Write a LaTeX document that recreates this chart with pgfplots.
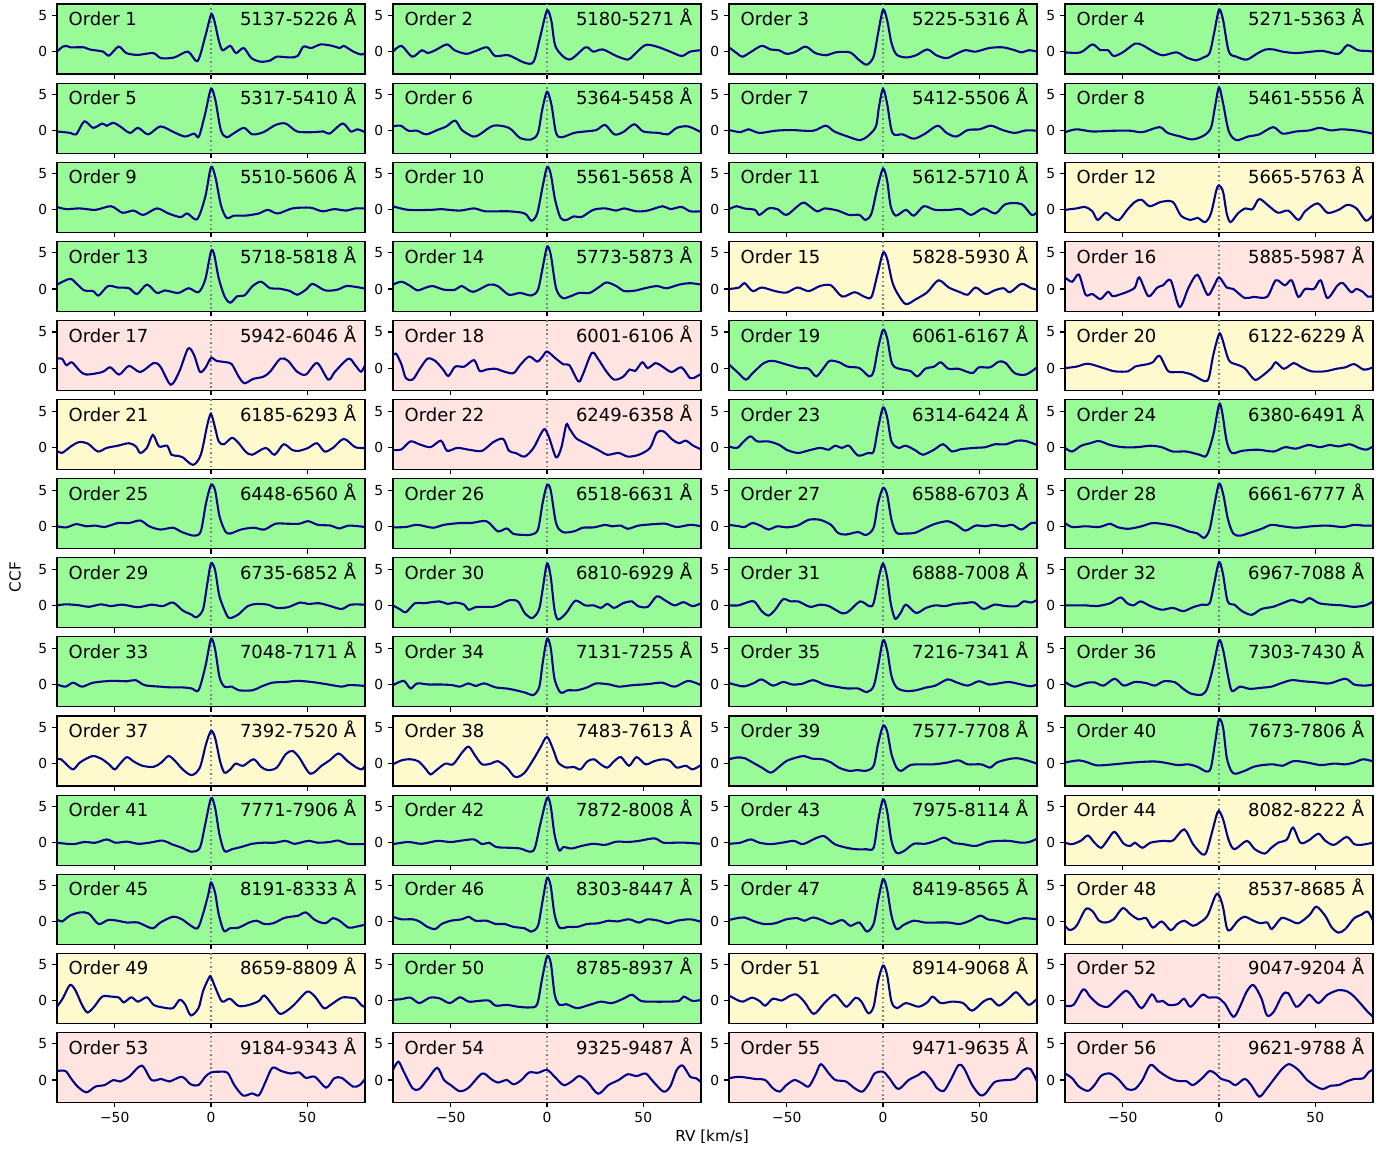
\documentclass[border=0pt]{standalone}
\usepackage{pgfplots}
\pgfplotsset{compat=1.18}
\usepackage{fontspec}
\setmainfont{DejaVu Sans}
\definecolor{cg}{HTML}{98FB98}
\definecolor{cy}{HTML}{FFFACD}
\definecolor{cp}{HTML}{FFE4E1}
\definecolor{ln}{HTML}{00008B}
\pgfplotsset{
  panel/.style={
    scale only axis, width=222.6pt, height=50.6pt,
    xmin=-80, xmax=80, ymin=-3.1, ymax=6.6,
    xtick={-50,0,50}, xticklabels={}, ytick={0,5}, yticklabels={0,5},
    tick align=outside, xtick pos=bottom, ytick pos=left,
    major tick length=3.5pt,
    axis line style={line width=0.8pt},
    every tick/.style={black, line width=0.8pt},
    tick label style={font=\fontsize{10}{12}\selectfont},
    anchor=north west,
  }
}
\newcommand{\panel}[7][]{%
  \begin{axis}[panel, at={(41.19pt+#2*242.83pt, -2.89pt-#3*57.17pt)}, axis background/.style={fill=#4}, #1]
    \addplot[gray, line width=1.2pt, dash pattern=on 1.2pt off 2pt] coordinates {(0,-4) (0,8)};
    \addplot[ln, line width=1.5pt, smooth] coordinates {#7};
    \node[anchor=base west, inner sep=0pt, font=\fontsize{13}{15}\selectfont] at (rel axis cs:0.037,0.69) {Order #5};
    \node[anchor=base east, inner sep=0pt, font=\fontsize{13}{15}\selectfont] at (rel axis cs:0.972,0.69) {#6 Å};
  \end{axis}}
\begin{document}
\begin{tikzpicture}
\useasboundingbox (0pt,0pt) rectangle (1004.55pt,-833.27pt);
% row 0
\panel{0}{0}{cg}{1}{5137-5226}{(-80,0) (-77,0.7) (-75,0.8) (-73,0.6) (-66,0.6) (-63,0.3) (-56,0) (-53,-0.55) (-48,0.7) (-44,-0.2) (-38,-0.45) (-30,-0.2) (-26,-0.9) (-19,-0.8) (-12,0) (-7,-1.3) (-3,2.1) (0,5.1) (1.6,4.4) (4,1.6) (6,0.2) (10,0.8) (13,-0.2) (17,0.5) (21,-0.9) (26,-1.4) (31,-1.2) (34,-0.7) (41,-0.8) (45,-0.6) (48,0.7) (52,0.5) (57,1.0) (63,0.8) (67,0.5) (69,0.8) (74,0) (78,-0.4) (80,-0.2)}
\panel{1}{0}{cg}{2}{5180-5271}{(-80,0) (-75.6,0.8) (-70,-0.7) (-65,0.2) (-62,-0.2) (-58,0.2) (-52,1.0) (-48,0.2) (-42,-0.3) (-37,0.1) (-31,0.6) (-27,-0.6) (-20,-0.5) (-12,-1.5) (-7,-1.4) (-3.5,2.1) (0,5.7) (2.3,4.2) (4.6,0.6) (11.6,-1.1) (20,0.6) (24,0) (29,0.3) (36,-0.6) (42,-1.1) (45,-0.5) (51,0.9) (57,0.7) (64,0) (70,-0.6) (74.4,0) (80,0.2)}
\panel{2}{0}{cg}{3}{5225-5316}{(-80,0.6) (-76,-0.2) (-73,-0.7) (-68.4,0) (-63,0.8) (-58.4,0.3) (-54.2,0.2) (-50,-0.3) (-45.3,0) (-40.2,0.7) (-35.1,-0.2) (-29.3,-0.5) (-24.7,-0.1) (-17.2,-0.1) (-12.3,-1.2) (-8.4,-1.8) (-4.9,-0.7) (-2.6,2.5) (0,5.8) (2.1,4.4) (4.4,1.2) (7,-0.4) (11.9,-0.8) (17.2,-0.5) (23,0.3) (27.7,-0.5) (33,-0.9) (38.1,-0.3) (42.8,0.2) (48.1,0) (55.1,0.5) (62.1,0.6) (68.4,0.2) (71.9,-0.1) (75.8,0.2) (80,0)}
\panel{3}{0}{cg}{4}{5271-5363}{(-80,-0.1) (-71.9,-0.1) (-65.8,1.0) (-61.6,0.2) (-57.7,0.2) (-54.7,-0.6) (-50,-0.1) (-43.7,1.1) (-39.8,0.9) (-34,0) (-29.1,-0.5) (-22.1,-0.1) (-17,-0.8) (-11.9,-1.2) (-8.1,-0.8) (-4.9,-0.2) (-2.6,2.5) (0,5.8) (2.1,4.4) (5.1,0) (9.1,-0.7) (14.4,-1.1) (20.2,-0.2) (24.2,0.3) (28.4,0.3) (33,0) (40,-0.2) (48.1,0) (53.9,0.1) (62.1,-0.3) (66.7,0.9) (72.1,0.2) (77.2,0.1) (80,0)}
% row 1
\panel{0}{1}{cg}{5}{5317-5410}{(-80,-0.1) (-73,-0.3) (-70,-0.5) (-65.8,1.3) (-61.2,0.4) (-56.5,1.0) (-54.2,0.7) (-50.7,1.1) (-47.2,0.6) (-42.1,-0.3) (-37.9,0.4) (-32.6,-0.5) (-26.3,0.6) (-19.3,-0.2) (-13.5,-0.8) (-8.8,-0.4) (-6.3,-0.8) (-3,2.4) (0,5.8) (2.3,4.2) (5.1,0.1) (8.1,-0.9) (12.1,-0.3) (17.2,0.4) (21.4,-0.5) (27.2,-0.2) (33.5,0.8) (38.8,1.0) (44.7,-0.1) (52.8,-0.2) (58.6,-0.1) (61.6,-0.4) (68.4,1.0) (72.6,-0.1) (76,0.2) (80,-0.2)}
\panel{1}{1}{cg}{6}{5364-5458}{(-80,0.6) (-76,0.7) (-72,0) (-67.4,0) (-62.8,-0.5) (-57,0.1) (-52.3,0.6) (-47.7,1.4) (-44.2,0.1) (-38.4,-0.8) (-34.9,-0.5) (-27.9,0.7) (-19.8,0.4) (-14,-1.0) (-8.1,-1.2) (-4.7,-0.3) (-2.5,2.9) (0,5.4) (2.3,3.6) (4.7,-0.3) (7.7,-0.9) (14,-0.3) (19.8,-0.1) (25.6,0.1) (30.2,0.8) (34.9,-0.5) (39.5,-0.2) (45.3,0.9) (50,-0.1) (58.1,-0.3) (62.8,-0.5) (67.4,0.4) (73.3,0.6) (80,-0.2)}
\panel{2}{1}{cg}{7}{5412-5506}{(-80,0.1) (-74,-0.2) (-70,0.2) (-64.2,-0.3) (-56,0) (-47.9,0.1) (-36.3,0) (-29.8,0.7) (-25.3,-0.1) (-18.4,-0.8) (-11.9,-1.3) (-7.7,-0.7) (-3.7,0.6) (-2.1,3.3) (0,5.8) (2.1,3.8) (4.9,-0.3) (10.2,-0.5) (16,-1.1) (21.9,-0.4) (28.4,0.7) (33,-0.3) (38.1,-0.8) (44,0.1) (50.2,0.2) (56,0.7) (62.1,0.1) (68.4,-0.3) (74.2,0.05) (80,0)}
\panel{3}{1}{cg}{8}{5461-5556}{(-80,-0.2) (-74,0.2) (-65.8,-0.1) (-54.7,0) (-46,0) (-39.8,-0.2) (-30.9,0.5) (-26.7,-0.3) (-20,-0.8) (-14,-1.2) (-8.1,-0.7) (-4.2,0.4) (-2.1,3.3) (0,6.0) (2.1,3.8) (5.1,-0.1) (9.1,-1.3) (15.1,-0.8) (20.9,-0.5) (28.1,0.5) (33,-0.4) (40,-0.1) (47,0.05) (52.3,0.4) (58,0.05) (64,0.2) (72,0) (80,-0.4)}
% row 2
\panel{0}{2}{cg}{9}{5510-5606}{(-80,0.4) (-75.1,0.1) (-68.1,0.2) (-60,0) (-51.9,0.5) (-46,-0.4) (-40.2,-0.1) (-35.1,-0.7) (-28.1,0.2) (-22.1,-0.5) (-15.8,-1.0) (-12.3,-0.5) (-7.2,-1.3) (-3,1.8) (0,5.9) (2.3,4.5) (5.1,0.7) (8.1,-1.1) (12.1,-0.8) (17.9,-0.8) (24.9,-0.5) (29.5,0) (34.7,-0.5) (42.3,0.2) (51.6,0.3) (57.9,-0.2) (64,0.1) (70.2,-0.1) (74.9,0.2) (80,0.2)}
\panel{1}{2}{cg}{10}{5561-5658}{(-80,0.5) (-72.1,0) (-60,0) (-55.3,0.1) (-45.3,-0.1) (-37.9,0.2) (-31.9,-0.2) (-19.8,-0.2) (-11.6,-0.5) (-8.1,-1.5) (-5.1,-0.5) (-2.3,3.2) (0,5.9) (1.9,5.0) (4.2,1.4) (7,-1.1) (10,-1.4) (14,-0.9) (17.9,-1.0) (24,0) (30.2,0.2) (36,-0.1) (40,0.2) (46.5,-0.2) (52.3,-0.1) (60,0.5) (64,0.1) (69.8,0.4) (74.4,-0.2) (80,-0.2)}
\panel{2}{2}{cg}{11}{5612-5710}{(-80,0.1) (-76,0.5) (-72.3,0.2) (-66.5,0) (-64.2,-0.7) (-59.5,0.2) (-54.9,0.1) (-50.2,-0.7) (-44.4,0.5) (-40.9,1.0) (-34.4,-0.2) (-30.5,0.2) (-23.5,-0.1) (-17.7,-0.7) (-12.3,-0.7) (-9.1,-1.4) (-6,-0.5) (-3,3.0) (0,5.7) (2.1,4.1) (4,0.5) (6.7,-0.8) (11.9,0) (16,-0.8) (21.2,0.5) (27,0) (34.7,0) (40.5,0.1) (45.8,-0.7) (52.1,0.2) (58.4,-0.5) (63.7,0.8) (71.9,0.8) (77.2,-0.7) (80,-0.3)}
\panel{3}{2}{cy}{12}{5665-5763}{(-80,0) (-74,0.2) (-69.5,0.4) (-65.8,-0.2) (-63,-1.4) (-58.8,-0.4) (-55.3,-1.1) (-51.9,-1.4) (-47.7,0) (-43.7,1.1) (-40.2,1.4) (-36,0.5) (-30.2,1.1) (-24,1.1) (-19.8,-0.8) (-14.7,-1.4) (-11.2,-1.1) (-7.2,-1.7) (-4.2,-0.5) (-1.4,2.7) (0,3.4) (2.1,2.5) (4,-0.5) (6,-1.7) (9.8,-0.5) (13.7,0.2) (17.4,0.1) (20.9,1.5) (26,0.5) (30.7,-0.4) (36,-0.1) (41.2,-1.4) (44.7,-0.2) (51.2,0.9) (56.3,-0.4) (62.1,0) (66.7,0.7) (71.4,0.2) (76.3,-1.5) (80,-0.7)}
% row 3
\panel{0}{3}{cg}{13}{5718-5818}{(-80,0.6) (-76.3,1.1) (-72.8,1.4) (-69.3,0.6) (-65.8,-0.2) (-61.2,-0.3) (-58.4,-0.9) (-53.5,0.4) (-48.4,0.2) (-42.6,0.1) (-38.4,-0.7) (-33.3,0.6) (-28.1,-0.55) (-24,-0.2) (-17,-0.55) (-11.6,0.1) (-6.5,-0.45) (-3,1.3) (0,5.2) (1.6,4.8) (4,1.5) (7,-1.0) (10,-1.9) (13.7,-1.0) (17.4,-0.9) (21.6,0.4) (26,1.0) (30.7,0.1) (35.3,0.05) (41.2,-0.3) (44.7,-0.8) (49.3,-0.1) (52.8,0.7) (59.3,-0.2) (65.6,-0.1) (70.2,0.4) (74.9,0.3) (80,0.05)}
\panel{1}{3}{cg}{14}{5773-5873}{(-80,0.6) (-75.6,1.0) (-70.9,0.4) (-67.4,-0.2) (-62.8,0.2) (-59.3,0.4) (-53.5,-0.1) (-47.7,-0.1) (-44.2,0.4) (-38.4,-0.4) (-30.2,0.6) (-25.6,0.4) (-19.8,-0.8) (-14,-0.55) (-8.1,-0.9) (-4.7,-0.1) (-2.3,2.9) (0,5.8) (1.9,4.8) (4.7,0.1) (8.1,-1.25) (12.3,-1.0) (16.7,-0.55) (22.1,-0.55) (26.7,0.2) (30.9,0.9) (36,0.4) (40.2,-0.3) (46.5,-0.2) (50,0.05) (57,0.4) (62.1,0.1) (68.6,0.6) (74.4,0.8) (80,0.6)}
\panel{2}{3}{cy}{15}{5828-5930}{(-80,0) (-74.7,0.2) (-71.9,0.8) (-67.7,-0.3) (-63,0.2) (-56,-0.3) (-50.2,-0.5) (-44.4,0.2) (-38.6,-0.3) (-32.8,0.4) (-27,0.5) (-21.2,-1.05) (-14.7,-0.45) (-9.5,-1.1) (-6,-1.1) (-3,1.9) (0,5.0) (2.1,4.2) (4.9,0.9) (7.9,-0.8) (11.9,-2.1) (17.2,-1.4) (23,-0.45) (28.8,1.2) (34.2,0.2) (40.5,-0.5) (44,-0.8) (48.1,0.2) (53.3,-0.7) (57.9,-0.2) (62.6,0.1) (66,-0.45) (71.9,0.7) (77,0.1) (80,-0.1)}
\panel{3}{3}{cp}{16}{5885-5987}{(-80,1.6) (-76.3,1.0) (-72.8,2.0) (-69.3,-0.8) (-65.8,-0.7) (-61.6,-1.4) (-57.7,-0.4) (-55.3,-1.0) (-51.9,-0.8) (-47.7,-0.4) (-43.7,0.2) (-41.4,1.6) (-36.7,-1.0) (-32.1,0.2) (-29.1,0.5) (-25.1,1.2) (-20.5,-2.5) (-15.8,0.2) (-11.2,1.95) (-6,-0.8) (-3,0.2) (0,1.6) (4,0.2) (7.4,0) (13.3,-1.25) (17.9,-1.1) (24.9,-1.1) (29.5,1.2) (34.2,0.5) (37.7,1.2) (41.2,-1.1) (44.7,0) (49.3,0) (52.8,1.2) (56.3,-1.25) (61.6,0.5) (64.4,0.8) (68.6,-0.45) (71.4,0) (74.9,-0.45) (77.2,-1.05) (80,-1.0)}
% row 4
\panel{0}{4}{cp}{17}{5942-6046}{(-80,1.3) (-77.4,1.3) (-75.1,0.4) (-72.3,0.8) (-68.1,-0.4) (-64.7,-0.9) (-56.5,-0.55) (-52.3,0.1) (-47.7,-0.9) (-42.6,0.3) (-36.7,-0.55) (-29.8,0.7) (-26.3,0.2) (-20.9,-2.3) (-16.5,-0.5) (-11.9,2.7) (-8.8,1.8) (-5.8,-0.5) (-3,0) (0,1.4) (2.8,1.0) (8.1,0.8) (10.9,0.5) (14.4,-1.2) (17.4,-2.1) (21.9,-1.5) (27.2,-1.2) (30.7,-0.5) (36,1.3) (40,1.0) (44.7,-0.5) (49.3,-0.9) (55.1,0.7) (60.9,-1.6) (64.4,-0.5) (71.4,1.3) (74.9,0.4) (77.9,-0.5) (80,0.4)}
\panel{1}{4}{cp}{18}{6001-6106}{(-80,1.8) (-78.4,2.0) (-75.6,0.5) (-73.3,-1.4) (-69.8,-1.6) (-66.3,-0.2) (-62.1,1.3) (-58.1,1.0) (-54,-0.2) (-51.2,-1.1) (-47.7,0.2) (-43,0.2) (-37.9,1.1) (-35,-0.4) (-31.4,-0.2) (-26.7,-0.1) (-22.1,-0.5) (-17.4,-0.7) (-14,0.4) (-9.3,1.6) (-5.1,0.9) (-2.3,1.6) (0,2.3) (4.2,1.4) (8.6,0.5) (11.6,0.4) (16.3,-1.85) (18.6,-0.9) (23.3,2.1) (26.7,1.2) (30.9,-0.5) (34.9,-1.6) (39.5,-1.2) (43,-0.2) (45.8,-0.4) (49.5,0.8) (52.3,0) (56.5,0.7) (60,0.2) (64.7,-0.55) (69.8,0.1) (74.4,-1.4) (77.5,-1.2) (80,-0.8)}
\panel{2}{4}{cg}{19}{6061-6167}{(-80,0.5) (-75.1,-0.7) (-71.2,-1.6) (-67.7,-0.7) (-61.9,0.7) (-57.2,1.0) (-50.2,0.5) (-43.3,0) (-38.6,-0.1) (-34.7,-1.15) (-30.9,0) (-27.7,1.0) (-22.8,0.8) (-18.4,0.2) (-12.3,0) (-7.2,-1.15) (-4.9,-0.45) (-2.6,2.7) (0,5.3) (2.1,4.2) (4.9,0.5) (10.2,-0.2) (14.2,-0.4) (17.9,-1.15) (21.9,-0.1) (26.5,0.2) (30,0.8) (34,-0.1) (39.3,-0.1) (46.3,-0.7) (49.8,0.1) (55.6,0.1) (60.2,0.9) (63.7,0.7) (68.4,-0.7) (74.2,-0.9) (80,0.1)}
\panel{3}{4}{cy}{20}{6122-6229}{(-80,0) (-74,0.2) (-68.1,0.6) (-60,0) (-54.2,-0.45) (-47.2,-0.45) (-43.7,0.2) (-37.9,0.5) (-34.4,0.8) (-30.9,1.7) (-26.5,-0.4) (-22.1,-0.55) (-19.3,-0.55) (-14.2,-0.9) (-7.7,-1.8) (-5.3,-1.35) (-3,1.8) (0,4.7) (1.6,4.1) (5.1,1.1) (9.1,0.5) (13.3,0) (18.4,-1.6) (22.1,-1.15) (27.2,0) (29.5,0.8) (33.7,-0.1) (38.8,0.7) (42.3,0.2) (48.1,-0.45) (55,-0.45) (60.9,-0.1) (65.6,0.1) (70.2,0.55) (74.9,-0.2) (77.9,-0.1) (80,0.1)}
% row 5
\panel{0}{5}{cy}{21}{6185-6293}{(-80,-0.5) (-77.4,-0.8) (-72.8,0.1) (-68.6,0.7) (-64,0.5) (-58.8,-0.6) (-54.2,-0.1) (-48.4,0.2) (-42.6,0.55) (-39,0.1) (-36.7,-0.8) (-33.3,-0.1) (-30.2,1.7) (-27,0.1) (-22.8,0.2) (-20.5,-1.05) (-17,-1.2) (-14.7,-1.4) (-9.3,-2.45) (-5.3,-1.05) (-1.9,3.1) (0,4.6) (2.1,2.7) (4,0.8) (6.7,0.4) (10.9,1.3) (14.4,0.55) (17.9,-0.6) (21.4,-1.05) (28.4,-0.1) (33,-1.05) (37.7,0.4) (42.3,-0.4) (45.8,-0.5) (50.5,-0.1) (55,0.55) (59,-0.6) (63.3,-0.1) (69,1.15) (74.9,0) (80,-0.1)}
\panel{1}{5}{cp}{22}{6249-6358}{(-80,-0.4) (-75.6,-0.3) (-70.9,0.8) (-66.3,0.4) (-60.5,0) (-55.1,0.9) (-51.9,-0.5) (-46.5,-0.1) (-39.5,-0.4) (-33.7,-0.5) (-27.9,0.7) (-22.8,1.15) (-19.8,-0.5) (-16.3,-0.8) (-11.6,-1.3) (-7,-0.1) (-3.5,1.7) (-1.2,2.5) (1.2,1.25) (4.7,-1.4) (7.4,-0.1) (10,3.1) (11.6,2.6) (15.1,1.25) (19.8,0.55) (26.7,-0.4) (31.4,-1.05) (37.2,-0.8) (41.9,-1.3) (47.7,-1.05) (53.5,-0.1) (57,2.0) (60.5,2.2) (65.1,1.05) (68.6,0.55) (72.1,0.9) (76,0.2) (80,-0.3)}
\panel{2}{5}{cg}{23}{6314-6424}{(-80,0.1) (-75.8,-0.1) (-72.3,0.8) (-68.8,1.5) (-65.3,0.8) (-59.5,0.8) (-53.7,0.3) (-50.2,-0.35) (-44.4,-0.8) (-39.3,-0.5) (-32.8,-0.1) (-28.1,-0.35) (-25.1,0.2) (-21.2,-0.1) (-17.7,0.2) (-13,-1.15) (-7.7,-0.8) (-4.9,-0.6) (-2.6,2.6) (0,5.5) (2.1,4.2) (4.4,0.8) (7.9,-0.1) (11.9,0.2) (17.2,-0.5) (20.7,-1.05) (26.5,-0.35) (31.2,0.4) (35.8,-0.6) (40,-0.3) (47.4,-0.1) (53.3,0) (57.9,0.4) (63.7,0.4) (69.5,0.9) (74.2,0.85) (80,0.3)}
\panel{3}{5}{cg}{24}{6380-6491}{(-80,-0.1) (-76.3,-0.6) (-71.6,0.2) (-66.9,0.55) (-62.3,0.85) (-56.5,0.3) (-50,0) (-42.6,0) (-35.6,0.2) (-29.8,0) (-24,-0.6) (-17,-0.6) (-10,-1.05) (-6.5,-1.15) (-3,1.7) (0,5.9) (1.6,4.9) (4,0.8) (6.7,-0.8) (12.1,-0.5) (20.2,-0.35) (28.4,-0.6) (34.2,0) (40,-0.2) (46.5,0.3) (52.3,0) (57.4,0.3) (62.1,0.1) (67.9,0.4) (72.6,-0.1) (76.5,-0.35) (80,0.1)}
% row 6
\panel{0}{6}{cg}{25}{6448-6560}{(-80,0) (-75.1,-0.15) (-70,0.3) (-64.7,0) (-60,0.1) (-55.3,-0.1) (-48.4,0.45) (-42.6,0.45) (-36.7,0.8) (-32.1,0) (-26.3,-0.45) (-19.8,-0.2) (-15.1,-0.8) (-8.8,-1.3) (-5.3,-0.7) (-2.6,3.2) (0,5.7) (2.1,5.0) (4.4,1.4) (7.4,-0.7) (10,-1.0) (15.6,-0.45) (22.1,-0.2) (27.7,-0.45) (33.5,0.35) (40,0.35) (45.8,0.35) (50.5,0.7) (55.6,0.2) (62.1,0.1) (66.7,-0.3) (71.4,0.1) (80,-0.1)}
\panel{1}{6}{cg}{26}{6518-6631}{(-80,-0.15) (-73.3,-0.1) (-67.4,0.2) (-59.3,-0.2) (-53.5,0.2) (-45.3,0.45) (-39.5,0.45) (-31.4,0.7) (-25.6,-0.7) (-20.9,-0.3) (-17.4,-1.05) (-11.6,-1.2) (-8.1,-1.15) (-4.7,-0.45) (-2.3,3.2) (0,5.7) (1.9,5.0) (4.7,0.45) (8.1,-0.8) (14,-0.7) (18.6,-0.2) (24.4,-0.15) (30.2,0.2) (33.7,0) (38.4,0.1) (41.9,-0.35) (47.7,0.1) (55.8,0.3) (61.6,0.35) (67.4,-0.1) (74.4,0.2) (80,0)}
\panel{2}{6}{cg}{27}{6588-6703}{(-80,0.2) (-74.7,0) (-71.9,-0.1) (-67.7,0.45) (-63,0) (-59.5,-0.45) (-54.9,0) (-50.2,-0.15) (-44.4,0.1) (-38.6,0.9) (-32.8,0.9) (-27,0.2) (-23.5,-0.9) (-19.5,-1.15) (-13,-0.8) (-8.8,-1.2) (-4.9,-0.2) (-2.6,3.2) (0,5.3) (2.1,4.4) (4.4,0.9) (7,-0.9) (11.9,-1.0) (16.7,-0.9) (22.3,-0.2) (27.2,0.35) (33.5,0.7) (38.1,0.2) (42.8,-0.6) (48.1,0.1) (53.3,0) (57.9,0.2) (62.6,0) (67.2,0.2) (71.9,-0.45) (77,0.45) (80,0.45)}
\panel{3}{6}{cg}{28}{6661-6777}{(-80,0.45) (-76.3,-0.1) (-69.3,0) (-62.3,-0.1) (-56.5,0.35) (-53,-0.1) (-47.2,-0.35) (-40.2,0) (-34.4,0.45) (-26.3,0.2) (-20.5,-0.2) (-15.8,-0.7) (-11.2,-1.0) (-7.7,-1.6) (-4.9,-0.45) (-2.6,2.7) (0,5.9) (2.1,4.5) (4.7,0.9) (7.4,-1.0) (10.9,-1.3) (16,-0.9) (22.1,-0.35) (27.2,0.2) (33,0) (40,-0.2) (48.1,0) (56.3,0.1) (64.4,-0.1) (70.2,0.2) (74.9,0.1) (80,0.1)}
% row 7
\panel{0}{7}{cg}{29}{6735-6852}{(-80,0) (-75.1,0.15) (-68.1,0) (-63.5,-0.2) (-57,0.15) (-52.3,-0.1) (-46,0.1) (-37.9,-0.25) (-30.9,0.1) (-25.1,-0.1) (-19.8,0.4) (-14.7,-0.7) (-10,-1.3) (-7.7,-1.65) (-4.2,-0.6) (-1.9,3.05) (0,5.8) (2.1,4.9) (4.4,1.25) (8.1,-1.3) (10,-1.75) (14,-1.3) (19.1,-0.1) (23.7,0.2) (29.5,0.1) (34.2,-0.35) (40,-0.25) (46.3,0.4) (50.5,0.2) (56.3,0.3) (62.1,-0.1) (67.9,-0.5) (72.6,0.1) (80,0.1)}
\panel{1}{7}{cg}{30}{6810-6929}{(-80,0) (-76,-0.6) (-73.3,-0.95) (-68.6,0.3) (-64,0.3) (-55.8,0.55) (-51.6,0.2) (-47.7,0.4) (-43,0.1) (-40.7,-0.6) (-37.2,-0.25) (-32.6,-0.2) (-27.9,-0.2) (-24.4,0.1) (-19.8,0.7) (-15.1,0.55) (-11.6,-1.05) (-7.7,-1.75) (-4.2,-0.6) (-2.3,2.15) (0,5.8) (1.9,4.0) (3.9,-0.6) (5.8,-1.95) (10,-1.05) (14.7,0.65) (19.8,0) (24.4,0) (27.9,-0.35) (31.4,0.2) (34.9,-0.35) (39.5,0.3) (44.2,0.55) (47.2,-0.1) (52.3,-0.2) (57,1.25) (61.6,0.65) (66.3,0) (70.9,0.45) (75.6,-0.1) (80,0.3)}
\panel{2}{7}{cg}{31}{6888-7008}{(-80,0) (-75.1,0) (-71.9,0.3) (-67,0.55) (-63,-0.8) (-59.5,-1.4) (-56,-0.6) (-51.9,0.85) (-47.9,0.55) (-44,0.55) (-37.9,-0.2) (-32.8,0.1) (-28.1,-0.1) (-21.2,-1.1) (-17.7,-0.8) (-11.9,0.55) (-7.2,-0.1) (-4.9,0.3) (-2.1,3.95) (0,5.8) (2.1,3.95) (4,0.3) (6.3,-1.85) (9.1,-1.05) (11.9,0.1) (17.2,-1.05) (22.3,-0.35) (27.2,0) (32.3,-0.1) (37,0.2) (42.1,0.3) (47.4,0.4) (52.1,-0.5) (57.9,0.1) (63.7,-0.1) (69.5,-0.1) (73,0.55) (77,0.4) (80,0.75)}
\panel{3}{7}{cg}{32}{6967-7088}{(-80,0) (-69.3,0) (-63.5,-0.1) (-56.5,0.3) (-51.2,1.1) (-47.7,0.3) (-44.4,0) (-40.7,0.55) (-35.6,-0.1) (-29.8,-0.6) (-24,-0.35) (-18.6,-0.8) (-13.5,-0.25) (-8.8,0.1) (-4.9,0.3) (-2.5,3.05) (0,6.0) (2,4.4) (4.5,0.55) (8,0.1) (12,-0.8) (17,-1.3) (22,-0.5) (28,-0.2) (33,0.3) (38,0.75) (43,0.4) (47,1.0) (52,0.3) (58,0.1) (64,0) (70,-0.2) (76,0) (80,0.55)}
% row 8
\panel{0}{8}{cg}{33}{7048-7171}{(-80,0) (-75.6,-0.3) (-71.6,0.25) (-67,-0.3) (-61.2,0.25) (-51.9,0.5) (-43.7,0.45) (-39.1,0.6) (-34.4,-0.1) (-26.3,-0.3) (-20.5,-0.4) (-14.7,-0.4) (-10,-0.55) (-6.5,-0.8) (-3,2.4) (0,6.3) (2.1,4.9) (4.4,1.05) (7,-0.3) (10.9,-0.3) (14.4,-0.8) (21.6,-0.8) (26,-0.3) (31.9,0.25) (38.8,0.35) (44.7,0.5) (52.3,0.35) (59.8,0.05) (67.9,-0.3) (70.9,-0.1) (74.9,-0.1) (80,-0.2)}
\panel{1}{8}{cg}{34}{7131-7255}{(-80,-0.1) (-74.4,0.5) (-70.9,-0.55) (-67.4,0.15) (-61.6,0) (-54.7,0) (-48.8,-0.1) (-45.3,-0.3) (-40.7,0.15) (-37.2,-0.2) (-32.6,0.15) (-26.7,-0.4) (-19.8,-0.6) (-11.6,-1.1) (-7,-1.45) (-4,-0.3) (-2.3,2.9) (0,6.3) (1.9,5.1) (3.9,0.8) (7,-1.1) (10.9,-0.8) (15.6,-0.8) (20.9,-0.4) (25.6,0.15) (32.6,0) (37.2,-0.3) (44.2,-0.1) (52.3,0.05) (59.8,0.25) (66.3,-0.3) (73.3,0.5) (80,-0.1)}
\panel{2}{8}{cg}{35}{7216-7341}{(-80,0.2) (-75.1,-0.15) (-71.9,-0.25) (-67,0.2) (-63,0.7) (-57.2,-0.15) (-51.9,0.35) (-47.2,0) (-42.1,0.1) (-36.3,0.6) (-30.5,0) (-24.7,-0.3) (-18.4,-0.55) (-13,-0.55) (-8.4,-1.05) (-4.9,-0.25) (-2.6,2.5) (0,6.1) (2.1,4.8) (4.4,1.15) (7.2,-0.45) (11.9,-0.9) (17.2,-0.8) (21.9,-0.45) (27.2,-0.15) (33.5,0.7) (38.1,0.3) (44,-0.15) (49.8,0.45) (55.1,0) (60.9,0.2) (65.6,0.35) (71.9,0) (76.5,-0.25) (80,0)}
\panel{3}{8}{cg}{36}{7303-7430}{(-80,0.35) (-75.1,-0.3) (-69.3,0.2) (-64.7,0.3) (-60,-0.15) (-54.2,0.8) (-49.5,-0.15) (-43.7,0.35) (-37.9,0.2) (-33.3,-0.15) (-28.6,0.45) (-22.8,0.3) (-19.3,-0.45) (-14.7,-1.25) (-8.8,-1.4) (-6,-0.45) (-3,2.5) (0,6.1) (2.1,4.8) (4.7,1.15) (6.7,-0.9) (10.9,-0.3) (16,-0.6) (22.1,-0.45) (27.2,-0.3) (31.9,0.15) (37.7,0.6) (43.5,0.45) (50.5,0.3) (57.4,0.15) (65.6,0.8) (70.2,0) (76,-0.15) (80,0)}
% row 9
\panel{0}{9}{cy}{37}{7392-7520}{(-80,0.6) (-77.9,0.6) (-75.1,-0.1) (-71.6,-0.8) (-68.1,0.15) (-63.5,0.85) (-60.7,1.05) (-56.5,0.6) (-53,-0.1) (-50,-0.8) (-47.2,0) (-43.7,0.9) (-40.2,0.3) (-35.6,-0.3) (-29.8,-0.45) (-25.8,0.15) (-22.1,1.05) (-18.6,0.35) (-14.7,-0.8) (-10,-1.6) (-5.8,-0.55) (-2.6,2.7) (0,4.5) (2.1,3.6) (4.7,0.35) (7,-1.25) (10,-0.8) (12.8,0) (16.7,-0.3) (22.1,0.6) (26,-0.45) (29.5,-0.9) (34.2,-0.55) (38.8,1.3) (42.3,1.75) (45.8,0.85) (51.6,-1.4) (57.4,-0.3) (61.6,0.45) (66.3,1.4) (70.9,0.35) (75.6,-0.55) (78.4,-0.8) (80,-0.3)}
\panel{1}{9}{cy}{38}{7483-7613}{(-80,-0.1) (-75.6,0.45) (-70.9,0.6) (-66.7,0.3) (-62.8,-0.8) (-60.5,-1.5) (-57,-0.8) (-52.8,0) (-48.8,-0.1) (-44.2,1.5) (-40.7,2.35) (-37.2,1.05) (-33.7,-0.1) (-29.1,0) (-25.6,0.35) (-20.9,-0.55) (-17.4,-1.7) (-15.1,-1.85) (-11.6,-1.25) (-7,0.6) (-3.5,2.2) (0,3.7) (3.5,1.75) (5.8,0.15) (10,-0.55) (14,-0.45) (17.4,-0.8) (20.9,0.3) (24.4,0.6) (27.9,-0.1) (31.4,-0.55) (34.9,0.35) (38.4,0.9) (42.6,-0.3) (46.5,0.9) (51.2,-0.1) (55.8,0.35) (60.5,0.6) (64,0.35) (67.4,-0.55) (72.1,-0.3) (75.6,-0.8) (80,-0.2)}
\panel{2}{9}{cg}{39}{7577-7708}{(-80,0.6) (-75.8,0.85) (-71.9,0.75) (-67.7,0.15) (-63,-0.55) (-58.4,-1.25) (-54.9,-0.65) (-50.2,0.35) (-44.9,0.85) (-40.9,1.05) (-37,0.7) (-31.6,0.6) (-27,0.15) (-23,-0.55) (-17.7,-1.0) (-13,-0.9) (-8.8,-1.0) (-4.9,-0.3) (-2.6,2.7) (0,5.2) (2.1,4.5) (4.4,1.3) (7,-0.55) (9.5,-1.0) (14.2,-0.2) (20.7,-0.1) (26.5,-0.1) (33.5,0.15) (39.3,0.45) (44,-0.1) (50.9,-0.1) (55.6,-0.55) (59.1,0.15) (64.9,0.6) (69.5,0.75) (74.7,0.45) (80,0)}
\panel{3}{9}{cg}{40}{7673-7806}{(-80,0.15) (-72.8,0.45) (-68.1,0.15) (-63.5,-0.25) (-54.7,-0.1) (-44.9,0.15) (-34.4,0.3) (-28.6,0.15) (-21.6,-0.2) (-15.8,-0.1) (-11.2,-0.45) (-6.5,-1.1) (-4.2,-0.55) (-1.9,3.15) (0,6.15) (2.1,5.0) (4,0.85) (6.3,-1.0) (8.6,-1.4) (13.3,-1.0) (17.9,-0.45) (22.6,-0.2) (28.4,-0.1) (33,-0.3) (38.8,0.35) (45.8,0.15) (52.8,-0.2) (59.8,0) (65.6,-0.1) (70.2,0.15) (74.9,0.6) (80,0.3)}
% row 10
\panel{0}{10}{cg}{41}{7771-7906}{(-80,0) (-71.6,-0.2) (-65.8,0.1) (-60,0) (-54.2,0.45) (-49.5,0) (-43.7,0.15) (-37.9,-0.15) (-32.1,0) (-25.1,0.3) (-20.5,-0.2) (-15.1,-0.7) (-10,-1.25) (-5.8,-0.7) (-3,2.55) (0,6.15) (2.1,4.85) (4.4,1.15) (7,-1.15) (10.9,-0.9) (15.6,-0.6) (21.4,-0.15) (27.2,0) (33,0) (38.8,0.25) (43.5,-0.15) (50.5,0.25) (55.6,0) (61.6,0.1) (66.3,0.3) (70.9,-0.15) (80,-0.2)}
\panel{1}{10}{cg}{42}{7872-8008}{(-80,-0.2) (-72.1,0.1) (-65.1,-0.15) (-57,0.25) (-50,0.1) (-44.2,0.3) (-37.9,0.45) (-33.7,-0.2) (-30.2,0) (-26.3,-0.6) (-19.8,-0.7) (-14,-0.8) (-8.8,-1.25) (-6.3,-0.7) (-3.5,2.55) (0,6.2) (1.9,5.1) (3.9,1.15) (6.3,-1.05) (8.6,-0.6) (12.8,-0.8) (17.9,-0.45) (24,-0.15) (30.2,-0.3) (36,0.15) (41.9,0.1) (47.7,0.25) (55.8,0.6) (60.5,0) (66.3,0) (72.1,0) (80,-0.15)}
\panel{2}{10}{cg}{43}{7975-8114}{(-80,-0.15) (-74.2,0) (-68.8,0.45) (-64.2,0) (-58.4,-0.2) (-52.6,0) (-46.3,0.25) (-41.6,-0.2) (-35.1,0.6) (-30.5,0.9) (-25.1,-0.2) (-18.8,-0.7) (-14.2,-0.9) (-8.8,-0.9) (-4.9,-0.7) (-2.6,3.0) (0,6.0) (2.1,4.4) (4.4,0.25) (7,-1.4) (10.9,-1.15) (16,-0.15) (21.9,-0.15) (27.2,0.25) (31.9,0.7) (36.5,0) (41.6,-0.2) (48.1,-0.45) (54.4,0.1) (60.2,0.25) (65.6,0.25) (71.9,0) (76,0.1) (80,0.55)}
\panel{3}{10}{cy}{44}{8082-8222}{(-80,0) (-76.3,-0.2) (-71.6,0.3) (-68.1,1.0) (-64.7,0) (-61.2,-0.7) (-57.7,0.45) (-54.2,1.5) (-49.5,-0.15) (-46,-0.45) (-43.7,0) (-39.8,-0.7) (-35.6,0) (-29.3,0.25) (-24,0.3) (-18.1,1.85) (-13.5,-0.2) (-8.8,-1.6) (-6.5,-1.25) (-3.5,1.6) (-1.2,3.9) (0,4.4) (2.1,3.25) (5.1,0.3) (8.1,-0.9) (14.4,0.25) (18.6,-0.9) (23.7,-1.5) (27.2,-0.7) (30.7,0) (35.3,0.45) (38.4,2.1) (42.3,0) (46.5,0.3) (51.6,1.25) (55.1,0.3) (59.8,-0.3) (66.3,0.8) (70.2,-0.2) (73.7,-0.3) (77.2,-0.15) (80,0)}
% row 11
\panel{0}{11}{cg}{45}{8191-8333}{(-80,0.35) (-77.4,0.05) (-73.3,0.85) (-68.1,1.3) (-63.5,1.15) (-58.4,-0.3) (-53.5,0.25) (-48.4,0.15) (-43.7,-0.1) (-37.9,-0.1) (-30.5,-0.9) (-26.3,-0.1) (-19.8,0.7) (-15.1,0.35) (-11.2,-0.4) (-7,-0.9) (-4.2,1.05) (-1.4,3.8) (0,5.45) (2.1,4.05) (4,1.05) (6.7,-1.25) (9.8,-0.9) (14.4,-0.8) (19.8,-0.1) (23.7,0.15) (27.7,-0.3) (32.3,-0.2) (37.7,0.5) (41.2,0.7) (45.3,0.85) (49.3,1.3) (54,0.25) (59.3,-0.2) (63.3,0.5) (66.7,0.15) (71.4,-0.8) (74.9,-0.7) (80,-0.4)}
\panel{1}{11}{cg}{46}{8303-8447}{(-80,0.7) (-75.6,0.35) (-69.8,0.35) (-66.3,0.05) (-62.1,-0.7) (-58.1,-1.0) (-54.7,-0.3) (-50,0.15) (-44.2,0.35) (-40.7,0.7) (-37.2,0.15) (-31.4,0.15) (-26.7,-0.3) (-22.1,-0.3) (-17.4,-0.7) (-11.6,-0.9) (-8.1,-1.35) (-4.7,-0.55) (-2.3,2.9) (0,6.05) (1.9,5.0) (3.9,1.05) (6.5,-0.8) (11.2,-0.7) (15.8,-0.7) (20.9,-0.3) (26.7,-0.2) (31.9,0.15) (36.5,0.05) (42.6,0.35) (47.7,-0.1) (52.3,0.35) (58.1,0.15) (62.8,-0.2) (67.4,0.15) (74.4,0.35) (80,0)}
\panel{2}{11}{cg}{47}{8419-8565}{(-80,0.25) (-75.8,0.5) (-71.9,0.6) (-67.7,0.15) (-61.9,-0.3) (-56,-0.2) (-50.2,0.35) (-44.4,0.5) (-40.9,0.15) (-36.3,0.6) (-30.9,0.15) (-27,-0.3) (-21.2,0.25) (-17,-0.55) (-12.3,-0.1) (-8.4,-1.35) (-4.9,-0.3) (-2.6,2.9) (0,5.9) (2.1,4.5) (4.4,0.85) (7,-1.0) (10.9,-0.4) (16,0.15) (21.9,-0.1) (27.7,-0.1) (34.2,-0.1) (39.8,-0.3) (45.1,0.15) (50.5,0.85) (54.4,0.35) (59.1,0.15) (64.4,-0.2) (68.4,0.15) (73,0.5) (80,0.35)}
\panel{3}{11}{cy}{48}{8537-8685}{(-80,-0.55) (-77.4,-1.15) (-74,-0.55) (-69.3,1.75) (-65.8,1.5) (-62.3,0.15) (-58.8,-0.1) (-54.7,0.35) (-50,1.9) (-46,1.05) (-41.9,0.35) (-37.9,0.5) (-34.4,-0.8) (-29.8,0.05) (-25.1,-1.15) (-21.6,-0.3) (-18.1,0.15) (-13.5,-0.55) (-10,-0.1) (-6,0.85) (-1.9,3.6) (0,3.7) (2.1,2.0) (4,-0.8) (5.8,-1.15) (9.8,0.15) (13.3,0.7) (17.9,0.15) (21.4,-0.2) (25.1,-0.1) (27.4,-1.0) (32.3,0.5) (36.5,0.25) (41.2,-0.2) (47,0.95) (50.5,2.1) (55.1,0.85) (58.6,-0.8) (62.1,-1.5) (65.6,-1.0) (70.2,0.5) (73.7,0.95) (77.2,1.4) (80,0.15)}
% row 12
\panel{0}{12}{cy}{49}{8659-8809}{(-80,-0.8) (-77,0.35) (-73.3,2.2) (-70.5,1.5) (-67,-0.55) (-64.2,-1.6) (-60.7,-0.8) (-56.5,0.6) (-51.9,0.6) (-47.7,0.45) (-45.3,-0.2) (-41.4,0.5) (-37.9,-0.1) (-33.3,0.5) (-29.8,-0.55) (-25.1,-0.9) (-19.8,-1.0) (-16.3,0.15) (-13.5,-0.45) (-10.5,-2.0) (-6.5,-1.0) (-4.2,1.3) (-1.2,3.15) (0,3.3) (2.8,1.5) (5.8,-0.1) (9.8,0.3) (14.4,-0.7) (19.8,-0.55) (24.9,0) (27.7,0.75) (31.9,-0.55) (36,-1.8) (41.2,-1.0) (44.7,-0.1) (50,1.3) (54,0.6) (58.6,-1.0) (62.1,-0.55) (67.9,0.45) (72.6,0.45) (74.9,0.35) (78.4,-0.65) (80,-0.8)}
\panel{1}{12}{cg}{50}{8785-8937}{(-80,0.15) (-75.6,0.25) (-70.9,0.45) (-66.3,-0.3) (-60.9,0.45) (-55.8,0.35) (-50.5,-0.3) (-45.3,0.5) (-40.7,-0.1) (-35.6,0) (-30.2,0.05) (-26.7,-0.65) (-20.9,-0.55) (-15.1,-0.8) (-8.8,-0.9) (-5.1,-0.45) (-2.5,3.15) (0,6.15) (2,5.2) (4,0.85) (6.5,-0.55) (10,-0.45) (15.6,-1.0) (22,-0.55) (28,-0.1) (33.7,-0.3) (40,0.35) (44.2,0.85) (48.8,0) (55.1,-0.1) (61.6,-0.1) (68.6,0) (71,0.6) (75.6,0) (80,0.15)}
\panel{2}{12}{cy}{51}{8914-9068}{(-80,0.75) (-75.8,0.15) (-72.8,-0.1) (-68.1,0.45) (-64.2,0) (-61.2,-0.65) (-57.2,0.3) (-52.6,0.05) (-49.1,0.6) (-45.1,0.9) (-40.9,-0.1) (-36,-1.8) (-30.5,-0.3) (-25.3,0.85) (-21.6,-0.1) (-18.8,-0.8) (-14.2,0.45) (-11.2,-0.1) (-7.7,-1.7) (-4.9,-0.8) (-2.6,2.7) (0,4.9) (2.1,3.6) (4.4,-0.1) (7.2,-1.0) (11.9,-0.3) (18.4,-0.8) (23,-0.2) (25.8,0.6) (30,-0.3) (35.8,-0.1) (41.6,-0.3) (46.3,-1.35) (52.1,-0.1) (56,0.3) (60.2,-0.65) (65.3,0.35) (69.1,1.2) (73,0.15) (76,-0.55) (80,0.3)}
\panel{3}{12}{cp}{52}{9047-9204}{(-80,-0.65) (-75.6,-0.55) (-70.5,1.6) (-67,0.6) (-62.3,-0.55) (-57.7,-0.8) (-53,0.35) (-48.4,1.4) (-44.9,0.6) (-40.2,-1.0) (-34.9,0.9) (-32.1,-0.1) (-29.1,0) (-26.3,-0.55) (-21.6,-0.45) (-18.1,0.3) (-14.7,-0.8) (-8.8,0.85) (-5.3,0.45) (-1.2,0.5) (2.8,-0.3) (7.4,-2.2) (10.5,-1.0) (14.4,1.3) (17.9,2.2) (22,0.35) (24.9,-2.0) (28.4,-1.5) (33,0.85) (36,1.05) (40,-0.8) (43.5,-0.1) (47,0.85) (51.6,-0.3) (56.3,0.85) (62.1,1.5) (66.7,1.3) (70.2,0.6) (74.9,-0.8) (77.2,-1.5) (80,-2.2)}
% row 13
\panel[xticklabels={−50,0,50}]{0}{13}{cp}{53}{9184-9343}{(-80,1.25) (-75.6,1.25) (-72.8,0.25) (-69.3,-0.9) (-64.7,-1.7) (-60,-0.9) (-55.3,-0.7) (-50.7,0) (-47.2,-0.2) (-42.6,0.45) (-36,2.0) (-30.9,0) (-25.8,0.15) (-21.6,-0.2) (-15.1,0.45) (-10.5,-0.6) (-6.5,-0.7) (-3,0.45) (0,1.05) (4,1.15) (8.6,1.0) (12.1,-0.7) (16.7,-2.15) (21.4,-1.85) (24.9,-2.1) (28.4,-0.2) (31.9,1.7) (36.5,1.25) (41.6,0.9) (45.8,1.05) (49.3,0.3) (54,0.45) (59.8,-1.05) (64,0.25) (67.9,0.3) (73.7,-0.9) (77.2,-0.7) (80,0.15)}
\panel[xticklabels={−50,0,50}]{1}{13}{cp}{54}{9325-9487}{(-80,1.4) (-77.2,2.55) (-74.4,1.15) (-69.8,-1.15) (-66.3,-1.25) (-61.6,0.25) (-57,1.7) (-53.5,0) (-50,-0.7) (-45.3,-1.55) (-40.7,-1.05) (-33.7,0.9) (-29.1,0.15) (-25.6,-0.35) (-20.9,0) (-17.4,-0.6) (-13.3,0) (-9.3,1.05) (-4.7,1.0) (0,1.4) (4,0.45) (8.6,-0.7) (12.8,-0.2) (16.7,0.55) (20.9,-0.2) (26.5,-1.9) (31.9,-0.7) (37.2,0) (41.9,0.8) (46.5,0.55) (51.2,0.9) (55.1,-0.2) (60.5,-1.6) (64,-0.9) (67.4,1.4) (70.5,2.0) (74.4,0.45) (77.4,0.25) (80,-0.3)}
\panel[xticklabels={−50,0,50}]{2}{13}{cp}{55}{9471-9635}{(-80,0.25) (-75.1,0.45) (-70,0.3) (-66.5,0.15) (-61.2,0) (-57.2,-1.15) (-53.7,-1.6) (-50.2,-0.7) (-46,0) (-42.1,-0.45) (-38.6,-0.9) (-35.1,0.7) (-32.3,2.2) (-28.1,0.9) (-24.7,0) (-19.3,-0.2) (-14.7,-1.15) (-10.7,-1.6) (-7.2,-0.45) (-4.4,0.9) (0,1.15) (3.3,0.25) (7.9,-1.25) (13.3,0) (18.4,0.7) (21.2,1.15) (25.3,0) (28.1,-1.15) (31.6,-1.5) (35.1,0) (39.3,2.1) (42.1,1.6) (46.3,-0.7) (50.5,-2.1) (53.3,-1.85) (57.9,-0.3) (63.7,0) (68.4,0.15) (73,1.4) (76.5,1.55) (80,-0.2)}
\panel[xticklabels={−50,0,50}]{3}{13}{cp}{56}{9621-9788}{(-80,0.9) (-76.3,0.25) (-72.8,-0.9) (-68.1,-1.5) (-64.7,-0.7) (-61.2,0.6) (-56.5,0.9) (-51.9,0) (-47.7,-1.25) (-43.7,-1.25) (-39.8,0) (-35.6,2.1) (-30.9,1.15) (-25.6,0.25) (-20.9,-0.15) (-17,-0.15) (-13.5,-0.7) (-8.8,0.25) (-4.9,1.25) (-1.9,0.9) (1.2,0.15) (5.1,-0.15) (8.6,-0.7) (13.3,0.15) (16.7,-0.7) (20.9,-2.3) (24.9,-1.15) (29.5,0.45) (33,1.6) (36.5,2.2) (41.2,1.4) (45.8,0) (50.5,-0.9) (53.9,-1.25) (57.9,-0.8) (62.1,-0.7) (66.3,-0.2) (70.2,0.15) (74.9,0.25) (77.9,1.15) (80,1.4)}
\node[rotate=90, font=\fontsize{11}{13}\selectfont] at (10.84pt,-417pt) {CCF};
\node[anchor=base, font=\fontsize{11}{13}\selectfont] at (514.6pt,-824.6pt) {RV [km/s]};
\end{tikzpicture}
\end{document}
